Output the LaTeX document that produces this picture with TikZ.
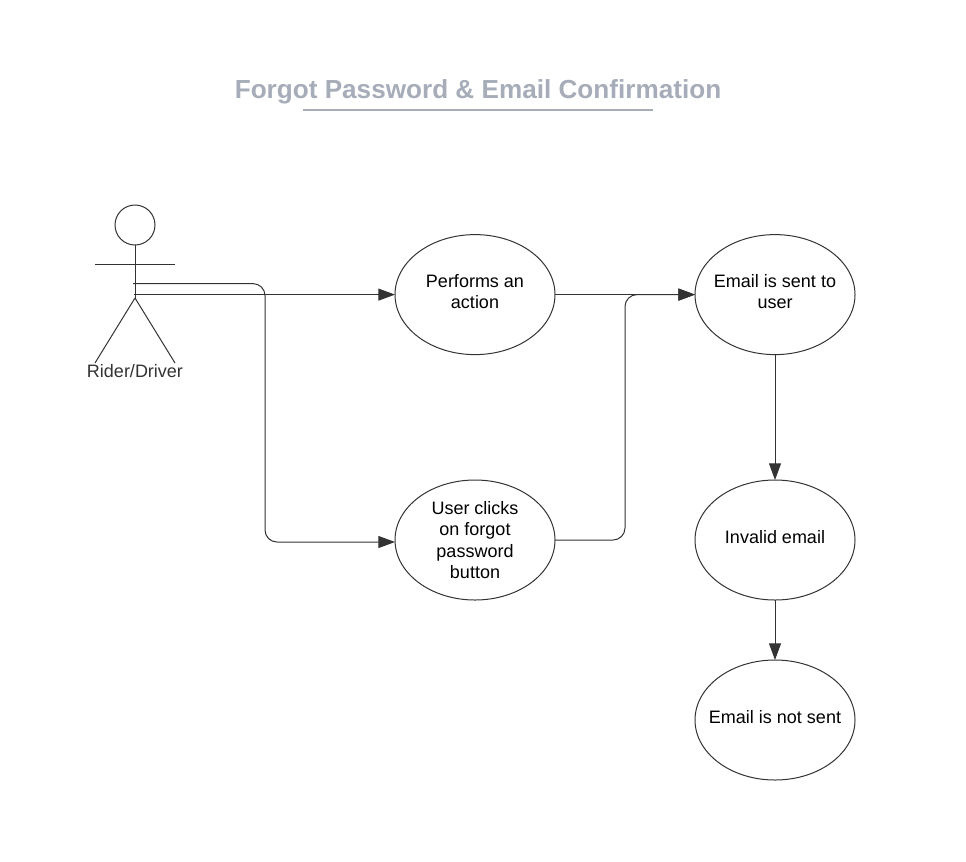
\documentclass[tikz,border=0pt]{standalone}
\usepackage{fontspec}
\setmainfont{Liberation Sans}
\usetikzlibrary{arrows.meta,shapes.geometric}
\definecolor{linec}{HTML}{333333}
\definecolor{titlec}{HTML}{A6ADB9}
\newcommand{\liftup}{\\[-11.8pt]\mbox{}}
\tikzset{
  x=0.75pt,y=-0.75pt,
  usecase/.style={draw=linec,line width=0.75pt,ellipse,minimum width=120pt,minimum height=90pt,inner sep=-30pt,outer sep=0pt,
    align=center,font=\fontsize{13.5}{16.2}\selectfont,text=black},
  conn/.style={draw=linec,line width=0.75pt,rounded corners=9pt,-{Triangle[length=12.5pt,width=9pt,fill=linec]},shorten >=0pt},
  limb/.style={draw=linec,line width=0.75pt},
}
\begin{document}
\begin{tikzpicture}
\useasboundingbox (0,0) rectangle (966,861);
\fill[white] (0,0) rectangle (966,861);
% title
\node[font=\bfseries\fontsize{19.6}{24}\selectfont,text=titlec,inner sep=0pt] (title) at (478,92) {Forgot Password \& Email Confirmation};
\coordinate (ulL) at (303,109.5);
\coordinate (ulR) at (653,109.5);
\draw[titlec,line width=1.5pt] (ulL) -- (ulR);
% actor
\node[draw=linec,line width=0.75pt,circle,minimum size=30pt,inner sep=0pt,outer sep=0pt] (head) at (135,225) {};
\coordinate (hip) at (135,298);
\coordinate (armL) at (95,264);
\coordinate (armR) at (175,264);
\coordinate (legL) at (95,363);
\coordinate (legR) at (175,363);
\draw[limb] (head.south) -- (hip);
\draw[limb] (armL) -- (armR);
\draw[limb] (hip) -- (legL);
\draw[limb] (hip) -- (legR);
\node[font=\fontsize{13.5}{16}\selectfont,text=linec,inner sep=0pt] (actor) at (135,371) {Rider/Driver};
% use cases
\node[usecase] (action) at (475,294.6) {Performs an\\action\liftup};
\node[usecase] (forgot) at (475,540) {User clicks\\on forgot\\password\\button};
\node[usecase] (sent) at (775,294.6) {Email is sent to\\user\liftup};
\node[usecase] (invalid) at (775,540) {Invalid email\liftup};
\node[usecase] (notsent) at (775,720) {Email is not sent\liftup};
% connector ends
\coordinate (s1) at (134,294.6);
\coordinate (s2) at (133,283.6);
\coordinate (b1) at (265,283.6);
\coordinate (b2) at (265,542);
\coordinate (f2) at (395,542);
\coordinate (c1) at (625,540);
\coordinate (c2) at (625,294.6);
\coordinate (fe) at (555,540);
% connectors
\draw[conn] (s1) -- (action.west);
\draw[conn] (s2) -- (b1) -- (b2) -- (f2);
\draw[conn] (action.east) -- (sent.west);
\draw[conn] (fe) -- (c1) -- (c2) -- (sent.west);
\draw[conn] (sent.south) -- (invalid.north);
\draw[conn] (invalid.south) -- (notsent.north);
\end{tikzpicture}
\end{document}
